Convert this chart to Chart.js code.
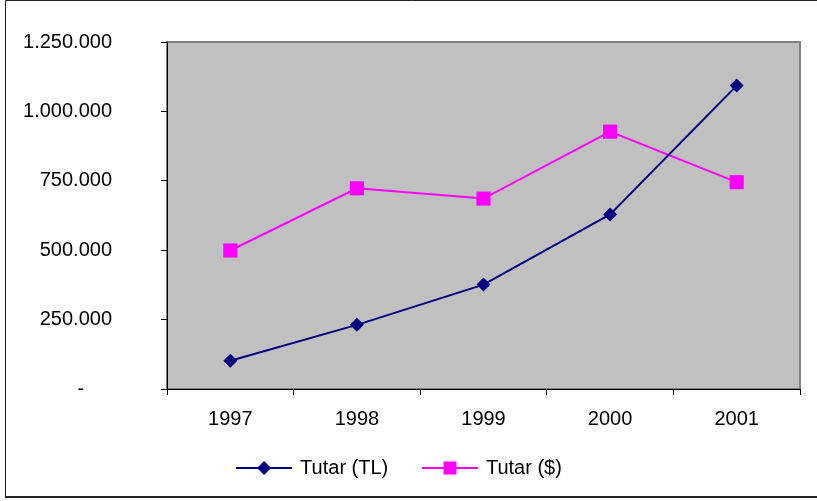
<!DOCTYPE html>
<html>
<head>
<meta charset="utf-8">
<script src="https://cdn.jsdelivr.net/npm/chart.js@4/dist/chart.umd.min.js"></script>
<style>
  html, body { margin: 0; padding: 0; background: #fff; }
  #wrap { position: relative; width: 817px; height: 501px; }
</style>
</head>
<body>
<div id="wrap"><canvas id="chart" width="817" height="501"></canvas></div>
<script>
const years = ['1997', '1998', '1999', '2000', '2001'];
const tutarTL = [102000, 231000, 376000, 629000, 1093000];
const tutarUSD = [499000, 723000, 686000, 927000, 745000];
const seriesNames = ['Tutar (TL)', 'Tutar ($)'];
const yTicks = [0, 250000, 500000, 750000, 1000000, 1250000];

const NAVY = '#000080';
const PINK = '#FF00FF';
const FONT = { family: '"Liberation Sans", Arial, sans-serif', size: 20 };

// thousands with dots, zero shown as a dash (excel accounting style)
function fmt(v) {
  if (v === 0) return '-     ';
  return String(v).replace(/\B(?=(\d{3})+(?!\d))/g, '.');
}

// small line + marker images for the legend
function legendImage(color, shape) {
  const c = document.createElement('canvas');
  c.width = 56;
  c.height = 20;
  const g = c.getContext('2d');
  g.strokeStyle = color;
  g.lineWidth = 2;
  g.beginPath();
  g.moveTo(0, 10);
  g.lineTo(56, 10);
  g.stroke();
  g.fillStyle = color;
  g.beginPath();
  if (shape === 'diamond') {
    g.moveTo(28, 3);
    g.lineTo(35, 10);
    g.lineTo(28, 17);
    g.lineTo(21, 10);
    g.closePath();
  } else {
    g.rect(21.5, 3.5, 13, 13);
  }
  g.fill();
  return c;
}
const legendImgs = [legendImage(NAVY, 'diamond'), legendImage(PINK, 'square')];

const plotBg = {
  id: 'plotBg',
  beforeDraw(chart) {
    const { ctx, chartArea: a } = chart;
    ctx.save();
    ctx.fillStyle = '#C0C0C0';
    ctx.fillRect(a.left, a.top, a.right - a.left, a.bottom - a.top);
    ctx.strokeStyle = '#808080';
    ctx.lineWidth = 2;
    ctx.strokeRect(a.left, a.top, a.right - a.left, a.bottom - a.top);
    ctx.restore();
  },
  afterDraw(chart) {
    // outer frame of the chart object
    const ctx = chart.ctx;
    ctx.save();
    ctx.strokeStyle = '#222';
    ctx.lineWidth = 1;
    ctx.beginPath();
    ctx.moveTo(5.5, 497);
    ctx.lineTo(5.5, 0.5);
    ctx.lineTo(817, 0.5);
    ctx.stroke();
    ctx.lineWidth = 2;
    ctx.beginPath();
    ctx.moveTo(5, 497);
    ctx.lineTo(817, 497);
    ctx.stroke();
    ctx.restore();
  }
};

new Chart(document.getElementById('chart'), {
  type: 'line',
  data: {
    labels: years,
    datasets: [
      {
        label: seriesNames[0],
        data: tutarTL,
        borderColor: NAVY,
        backgroundColor: NAVY,
        borderWidth: 2,
        pointStyle: 'rectRot',
        pointRadius: 7,
        pointBorderWidth: 0,
        tension: 0
      },
      {
        label: seriesNames[1],
        data: tutarUSD,
        borderColor: PINK,
        backgroundColor: PINK,
        borderWidth: 2,
        pointStyle: 'rect',
        pointRadius: 10,
        pointBorderWidth: 0,
        tension: 0
      }
    ]
  },
  options: {
    responsive: false,
    animation: false,
    layout: { padding: { left: 0, top: 42, right: 17, bottom: 13 } },
    plugins: {
      tooltip: { enabled: false },
      legend: {
        position: 'bottom',
        labels: {
          usePointStyle: true,
          pointStyleWidth: 52,
          padding: 19,
          color: '#000',
          font: FONT,
          generateLabels(chart) {
            const items = Chart.defaults.plugins.legend.labels.generateLabels(chart);
            items.forEach(it => {
              it.pointStyle = legendImgs[it.datasetIndex];
              // a bit more room between the two entries
              if (it.datasetIndex === 0) it.text = it.text + '   ';
            });
            return items;
          }
        }
      }
    },
    scales: {
      x: {
        offset: true,
        grid: { offset: true, drawOnChartArea: false, tickLength: 6, color: '#000' },
        border: { color: '#000', width: 1 },
        ticks: { color: '#000', font: FONT, padding: 12, maxRotation: 0 },
        afterFit(scale) { scale.height = 50; }
      },
      y: {
        min: 0,
        max: 1250000,
        grid: { drawOnChartArea: false, tickLength: 6, color: '#000' },
        border: { color: '#000', width: 1 },
        afterBuildTicks(scale) { scale.ticks = yTicks.map(v => ({ value: v })); },
        ticks: { color: '#000', font: FONT, padding: 49, callback: v => fmt(v) },
        afterFit(scale) {
          scale.width = 167;
          scale.paddingTop = 12;
          scale.paddingBottom = 12;
        }
      }
    }
  },
  plugins: [plotBg]
});
</script>
</body>
</html>
